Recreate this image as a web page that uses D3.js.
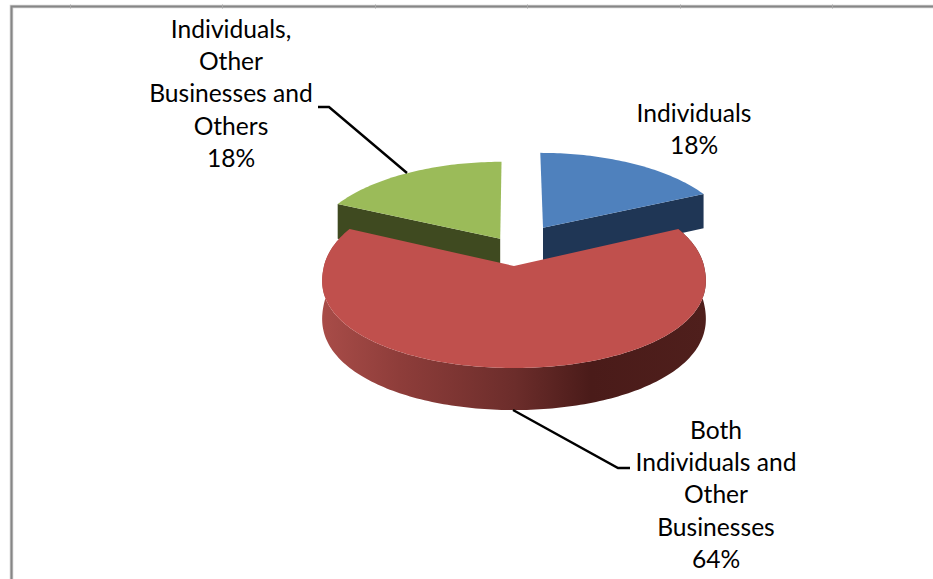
<!DOCTYPE html>
<html>
<head>
<meta charset="utf-8">
<script src="https://cdn.jsdelivr.net/npm/d3@7/dist/d3.min.js"></script>
<style>
html, body { margin: 0; padding: 0; background: #fff; }
svg { display: block; }
text { font-family: Lato, "Open Sans", sans-serif; font-size: 24.6px; fill: #000; text-anchor: middle; }
</style>
</head>
<body>
<svg id="chart" width="933" height="579"></svg>
<script>
// Customer mix of the business
const categories = ["Individuals", "Both Individuals and Other Businesses", "Individuals, Other Businesses and Others"];
const shares = [18, 64, 18];
const topColors = ["#4f81bd", "#c0504d", "#9bbb59"];
const faceColors = ["#1f3655", "#4a1c1a", "#3f4a20"];
const labelLines = [
  ["Individuals", "18%"],
  ["Both", "Individuals and", "Other", "Businesses", "64%"],
  ["Individuals,", "Other", "Businesses and", "Others", "18%"]
];
// Slices pulled away from the shared axis, in radius units
const explodeX = [0.16, 0, -0.075];
const explodeY = [-0.44, 0, -0.31];
const sliceWidth = [1.03, 1, 1.025];
const labelX = [694, 716, 231];
const labelBaseline = [122, 438.6, 37.6];
const lineGap = 32.4;
const leaders = [null, [[513, 410], [618, 468], [630, 468]], [[318, 107], [329, 107], [407, 173]]];
const frameTicks = [70, 222, 375, 527, 680, 832];

const originX = 514, originY = 266;
const radius = 190, tilt = 90.9, perspective = 0.109, depth = 37.5;
const frontFullness = 0.88;

const svg = d3.select("#chart");

// Perspective view of a point on the tilted disc; v grows towards the viewer
function project(u, v, drop) {
  const s = 1 / (1 - perspective * v);
  return [originX + u * radius * s, originY + (v * tilt + drop) * s];
}

const pie = d3.pie().sort(null).value(d => d);
const arcs = pie(shares);
const toPath = d3.line();

function rim(i, a0, a1, drop) {
  const n = Math.max(2, Math.ceil(Math.abs(a1 - a0) / 0.02));
  return d3.range(n + 1).map(k => {
    const a = a0 + (a1 - a0) * k / n;
    const c = Math.cos(a);
    // The near half of the rim bulges a little towards the viewer
    const along = c < 0 ? Math.pow(-c, frontFullness) : -c;
    return project(explodeX[i] + sliceWidth[i] * Math.sin(a), explodeY[i] + along, drop);
  });
}
const apex = (i, drop) => project(explodeX[i], explodeY[i], drop);

// Shaded rim of the large slice, lit from the left
const defs = svg.append("defs");
const wallGrad = defs.append("linearGradient")
  .attr("id", "wallShade")
  .attr("gradientUnits", "userSpaceOnUse")
  .attr("x1", 323).attr("x2", 706).attr("y1", 0).attr("y2", 0);
[[0, "#a84c48"], [0.2, "#8e3d3a"], [0.5, "#6c2d2b"], [0.7, "#4a1b19"], [1, "#4f1f1c"]]
  .forEach(([o, c]) => wallGrad.append("stop").attr("offset", o).attr("stop-color", c));

// Chart frame: only the top and left edges fall inside the view
const framePath = toPath([[933, 6.5], [11.5, 6.5], [11.5, 579]]);
svg.append("path").attr("d", framePath).attr("fill", "none").attr("stroke", "#cfcfcf").attr("stroke-width", 3.6);
svg.append("path").attr("d", framePath).attr("fill", "none").attr("stroke", "#868686").attr("stroke-width", 2);
svg.selectAll("line.frame-tick").data(frameTicks).join("line")
  .attr("class", "frame-tick")
  .attr("x1", d => d + 0.5).attr("x2", d => d + 0.5)
  .attr("y1", 4.5).attr("y2", 8.5)
  .attr("stroke", "#a8a8a8").attr("stroke-width", 1);

// Back slices first, then the front slice over them
[0, 2, 1].forEach(i => {
  const d = arcs[i];
  const g = svg.append("g").attr("class", "slice");
  if (i === 1) {
    const top = rim(i, d.endAngle, d.startAngle, 0);
    const bottom = rim(i, d.startAngle, d.endAngle, depth);
    g.append("path").attr("d", toPath(top.concat(bottom)) + "Z").attr("fill", "url(#wallShade)");
  } else {
    // Cut face towards the front of the disc
    const edge = i === 0 ? d.endAngle : d.startAngle;
    const outer = rim(i, edge, edge, 0)[0];
    const outerLow = rim(i, edge, edge, depth)[0];
    g.append("path")
      .attr("d", toPath([apex(i, 0), outer, outerLow, apex(i, depth)]) + "Z")
      .attr("fill", faceColors[i]);
  }
  const outline = rim(i, d.startAngle, d.endAngle, 0);
  g.append("path")
    .attr("d", toPath([apex(i, 0), ...outline]) + "Z")
    .attr("fill", topColors[i]);
});

// Leader lines
leaders.forEach(pts => {
  if (pts) svg.append("path").attr("d", toPath(pts))
    .attr("fill", "none").attr("stroke", "#000").attr("stroke-width", 2.4);
});

// Data labels
labelLines.forEach((lines, i) => {
  const t = svg.append("text");
  lines.forEach((line, k) => {
    t.append("tspan").attr("x", labelX[i]).attr("y", labelBaseline[i] + k * lineGap).text(line);
  });
});
</script>
</body>
</html>
